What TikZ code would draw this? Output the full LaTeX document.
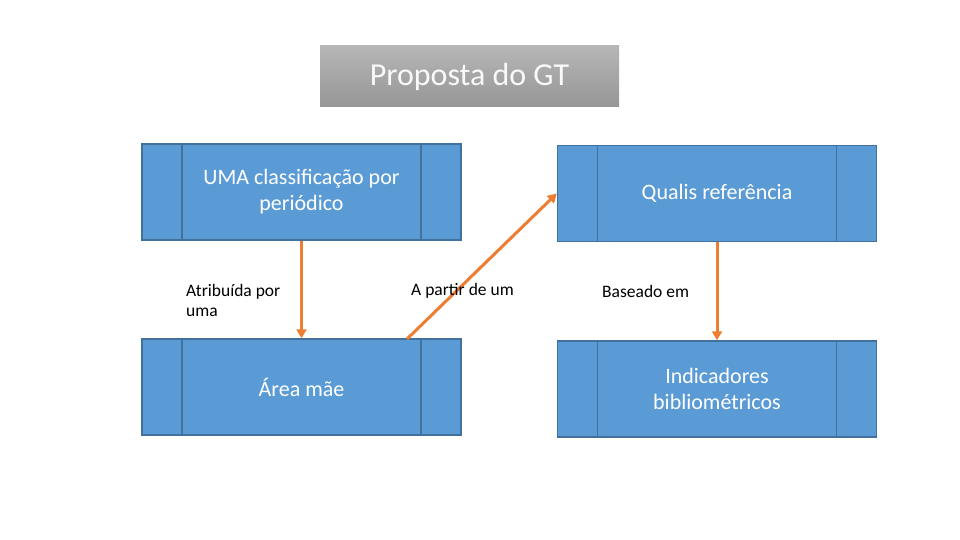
\documentclass[tikz,border=0pt]{standalone}
\usepackage{fontspec}
\setmainfont{Carlito}
\usetikzlibrary{arrows.meta,calc}
\definecolor{boxfill}{RGB}{91,155,213}
\definecolor{boxline}{RGB}{65,113,156}
\definecolor{arr}{RGB}{237,125,49}
\definecolor{ttop}{RGB}{182,182,182}
\definecolor{tbot}{RGB}{150,150,150}
\tikzset{
  bluebox/.style={draw=boxline, line width=1.5pt, fill=boxfill, minimum width=319pt, minimum height=96pt,
    inner sep=0pt, align=center, text=white, font=\fontsize{22}{26}\selectfont,
    path picture={
      \draw[boxline, line width=1.5pt] ([xshift=40pt]path picture bounding box.north west) -- ([xshift=40pt]path picture bounding box.south west);
      \draw[boxline, line width=1.5pt] ([xshift=-40pt]path picture bounding box.north east) -- ([xshift=-40pt]path picture bounding box.south east);
    }},
  conn/.style={draw=arr, line width=3pt, -{Triangle[length=9pt,width=10pt]}},
  lbl/.style={align=left, anchor=north west, inner sep=0pt, font=\fontsize{17.5}{20}\selectfont, text=black}
}
\begin{document}
\begin{tikzpicture}[x=1pt,y=-1pt]
\useasboundingbox (0,0) rectangle (960,540);
\node[top color=ttop, bottom color=tbot, minimum width=299pt, minimum height=61pt, inner sep=0pt,
  text=white!95!gray, font=\fontsize{32}{36}\selectfont] (title) at (469.5,76.5) {Proposta do GT};
\node[bluebox] (b1) at (301.5,192) {UMA classificação por\\periódico};
\node[bluebox] (b2) at (301.5,387) {Área mãe};
\node[bluebox] (b3) at (717,193.5) {Qualis referência};
\node[bluebox] (b4) at (717,389) {Indicadores\\bibliométricos};
\coordinate (s2) at (407,339);
\draw[conn] (b1.south) -- (b2.north);
\draw[conn] (s2) -- (b3.west);
\draw[conn] (b3.south) -- (b4.north);
\node[lbl] (l1) at (186,284) {Atribuída por\\uma};
\node[lbl] (l2) at (411,283) {A partir de um};
\node[lbl] (l3) at (602,285) {Baseado em};
\end{tikzpicture}
\end{document}
